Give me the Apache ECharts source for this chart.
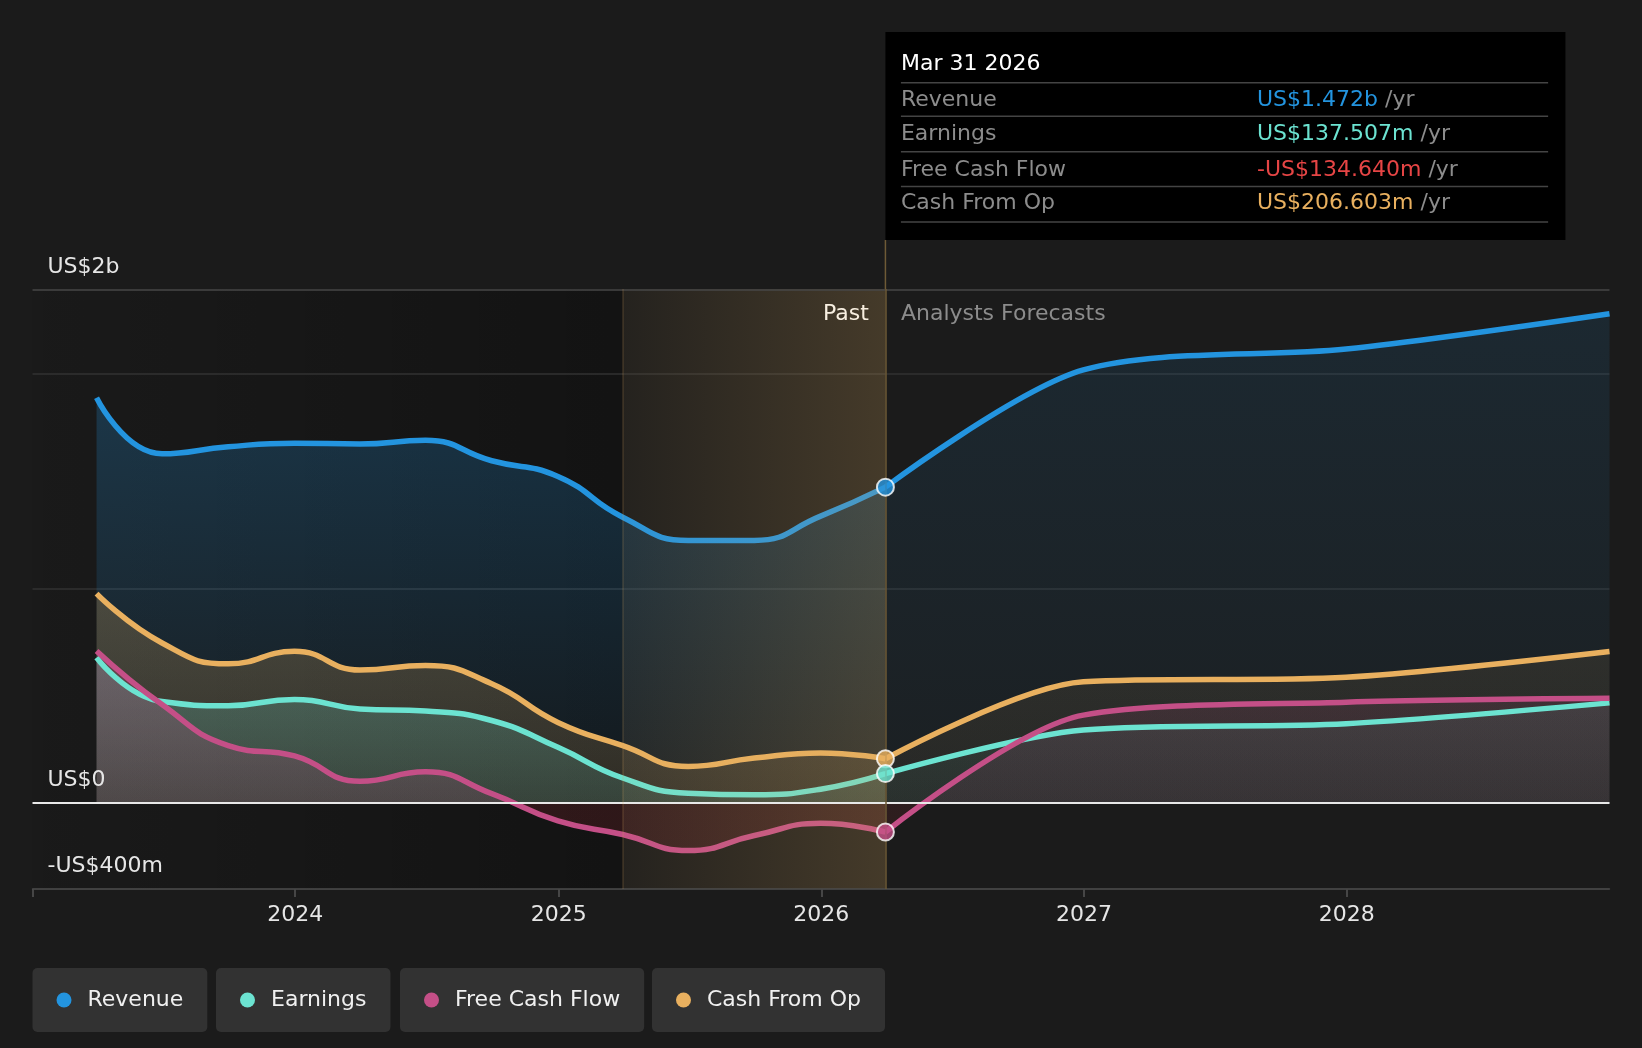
<!DOCTYPE html>
<html lang="en">
<head>
<meta charset="utf-8">
<title>Revenue, Earnings and Cash Flow</title>
<script src="https://cdn.jsdelivr.net/npm/echarts@6/dist/echarts.min.js"></script>
<style>
  html, body { margin: 0; padding: 0; background: #1b1b1b; }
  #chart { width: 1642px; height: 1048px; }
</style>
</head>
<body>
<div id="chart"></div>
<script>
// quarter ends (past) and analyst forecast dates
var pastDates = ['2023-03-31', '2023-06-30', '2023-09-30', '2023-12-31', '2024-03-31', '2024-06-30',
  '2024-09-30', '2024-12-31', '2025-03-31', '2025-06-30', '2025-09-30', '2025-12-31', '2026-03-31'];
var forecastDates = ['2026-03-31', '2026-12-31', '2027-12-31', '2028-12-31'];

// values in US$ billions
var revenuePast = [1.888, 1.627, 1.660, 1.677, 1.673, 1.690, 1.595, 1.522, 1.332, 1.224, 1.224, 1.337, 1.472];
var revenueForecast = [1.472, 2.018, 2.115, 2.280];
var earningsPast = [0.678, 0.473, 0.454, 0.483, 0.439, 0.429, 0.385, 0.260, 0.117, 0.046, 0.039, 0.065, 0.137507];
var earningsForecast = [0.137507, 0.341, 0.370, 0.467];
var fcfPast = [0.709, 0.459, 0.268, 0.220, 0.102, 0.146, 0.044, -0.083, -0.146, -0.221, -0.151, -0.094, -0.13464];
var fcfForecast = [-0.13464, 0.410, 0.470, 0.488];
var cfoPast = [0.976, 0.746, 0.649, 0.707, 0.620, 0.641, 0.556, 0.376, 0.268, 0.171, 0.210, 0.234, 0.206603];
var cfoForecast = [0.206603, 0.565, 0.586, 0.706];

var yLabelValues = [-0.4, 0];
var yLabelTexts = ['-US$400m', 'US$0'];
var topLabel = 'US$2b';
var gridValues = [1, 2];

var xMin = '2023-01-01', xMax = '2028-12-31';
var lastYearStart = '2025-03-31', nowDate = '2026-03-31';
var yMin = -0.4, yMax = 2.395;

var FONT = 'DejaVu Sans';
var C = { revenue: '#2394df', earnings: '#6ce3d1', fcf: '#c44f87', cfo: '#e9b05f' };

function ts(d) { return new Date(d + 'T00:00:00').getTime(); }
function pairs(dates, vals) { return dates.map(function (d, i) { return [ts(d), vals[i]]; }); }
function rgba(hex, a) {
  var n = parseInt(hex.slice(1), 16);
  return 'rgba(' + (n >> 16) + ',' + ((n >> 8) & 255) + ',' + (n & 255) + ',' + a + ')';
}
function grad(x2, y2, stops) { return { type: 'linear', x: 0, y: 0, x2: x2, y2: y2, colorStops: stops }; }

function metric(name, color, dates, vals, aTop, aBottom, smooth, negColor) {
  var stops = [{ offset: 0, color: rgba(color, aTop) }, { offset: 1, color: rgba(color, aBottom) }];
  if (negColor) {
    var max = Math.max.apply(null, vals.concat(0)), min = Math.min.apply(null, vals.concat(0));
    var zs = max / (max - min);
    stops = [{ offset: 0, color: rgba(color, aTop) }, { offset: zs, color: rgba(color, aBottom) },
      { offset: zs, color: negColor }, { offset: 1, color: negColor }];
  }
  return {
    name: name, type: 'line', data: pairs(dates, vals), smooth: smooth,
    symbol: 'none', silent: true, z: 2,
    lineStyle: { color: color, width: 5.5 }, itemStyle: { color: color },
    areaStyle: { color: grad(0, 1, stops) }
  };
}

function money(v) {
  var s = v < 0 ? '-US$' : 'US$', a = Math.abs(v);
  return a >= 1 ? s + a.toFixed(3) + 'b' : s + (a * 1000).toFixed(3) + 'm';
}

var labelStyle = { show: true, position: 'insideStartTop', color: '#e6e6e6', fontSize: 22, fontFamily: FONT, distance: [15, 12] };

var axisMarks = yLabelValues.map(function (v, i) {
  return {
    yAxis: v, label: Object.assign({ formatter: yLabelTexts[i] }, labelStyle),
    lineStyle: v === 0 ? { color: '#e8e8e8', width: 2, type: 'solid' } : { color: '#444', width: 1.5, type: 'solid' }
  };
});
axisMarks.push({ yAxis: yMax - 0.0005, label: Object.assign({ formatter: topLabel }, labelStyle), lineStyle: { color: '#474747', width: 1.5, type: 'solid' } });
axisMarks.push({ xAxis: ts(lastYearStart), label: { show: false }, lineStyle: { color: 'rgba(217,169,93,0.18)', width: 1.5, type: 'solid' } });
axisMarks.push({ xAxis: ts(nowDate), label: { show: false }, lineStyle: { color: '#6e5a36', width: 1.5, type: 'solid' } });

var series = [
  metric('Revenue', C.revenue, pastDates, revenuePast, 0.34, 0.06, 0.5),
  metric('Revenue', C.revenue, forecastDates, revenueForecast, 0.16, 0.05, 0.3),
  metric('Cash From Op', C.cfo, pastDates, cfoPast, 0.33, 0.18, 0.5),
  metric('Cash From Op', C.cfo, forecastDates, cfoForecast, 0.13, 0.08, 0.3),
  metric('Earnings', C.earnings, pastDates, earningsPast, 0.34, 0.18, 0.5),
  metric('Earnings', C.earnings, forecastDates, earningsForecast, 0.12, 0.07, 0.3),
  metric('Free Cash Flow', C.fcf, pastDates, fcfPast, 0.36, 0.2, 0.5, 'rgba(215,50,60,0.2)'),
  metric('Free Cash Flow', C.fcf, forecastDates, fcfForecast, 0.18, 0.12, 0.3, 'rgba(215,50,60,0.14)'),
  {
    name: 'frame', type: 'line', data: [], silent: true,
    markArea: {
      silent: true, z: 1,
      data: [[{ xAxis: ts(xMin), itemStyle: { color: grad(1, 0, [{ offset: 0, color: 'rgba(0,0,0,0.05)' }, { offset: 1, color: 'rgba(0,0,0,0.3)' }]) } },
        { xAxis: ts(lastYearStart) }]]
    },
    markLine: {
      silent: true, z: 1, symbol: 'none', animation: false,
      data: gridValues.map(function (v) { return { yAxis: v, label: { show: false }, lineStyle: { color: '#323232', width: 1.5, type: 'solid' } }; })
    }
  },
  {
    name: 'overlay', type: 'line', data: [], silent: true,
    markArea: {
      silent: true, z: 3,
      data: [[{ xAxis: ts(lastYearStart), itemStyle: { color: grad(1, 0, [{ offset: 0, color: 'rgba(217,169,93,0.05)' }, { offset: 1, color: 'rgba(217,169,93,0.22)' }]) } },
        { xAxis: ts(nowDate) }]]
    },
    markLine: { silent: true, z: 4, symbol: 'none', animation: false, data: axisMarks }
  },
  {
    name: 'current', type: 'scatter', z: 10, silent: true, symbolSize: 17,
    itemStyle: { borderColor: '#ffffff', borderWidth: 2 },
    data: [
      { value: [ts(nowDate), revenuePast[revenuePast.length - 1]], itemStyle: { color: C.revenue } },
      { value: [ts(nowDate), cfoPast[cfoPast.length - 1]], itemStyle: { color: C.cfo } },
      { value: [ts(nowDate), earningsPast[earningsPast.length - 1]], itemStyle: { color: C.earnings } },
      { value: [ts(nowDate), fcfPast[fcfPast.length - 1]], itemStyle: { color: C.fcf } }
    ]
  }
];

var legendNames = ['Revenue', 'Earnings', 'Free Cash Flow', 'Cash From Op'];
var legendLeft = [32.5, 216, 400, 652];
var legends = legendNames.map(function (n, i) {
  return {
    data: [n], left: legendLeft[i], top: 968, icon: 'circle', itemWidth: 15, itemHeight: 15,
    backgroundColor: '#323232', borderRadius: 5, padding: [20, 24, 20, 24],
    textStyle: { color: '#f0f0f0', fontSize: 22, fontFamily: FONT, lineHeight: 24, padding: [0, 0, 0, 11] }
  };
});

var chart = echarts.init(document.getElementById('chart'));
var option = {
  backgroundColor: '#1b1b1b',
  animation: false,
  textStyle: { fontFamily: FONT },
  grid: { left: 32.5, right: 32.5, top: 289, bottom: 159, containLabel: false },
  legend: legends,
  xAxis: {
    type: 'time', min: ts(xMin), max: ts(xMax),
    minInterval: 365 * 864e5, maxInterval: 366 * 864e5,
    splitLine: { show: false },
    axisLine: { onZero: false, lineStyle: { color: '#444', width: 1.5 } },
    axisTick: { show: true, length: 8, lineStyle: { color: '#555', width: 1.5 } },
    axisLabel: {
      formatter: function (v) { return v <= ts(xMin) ? '' : String(new Date(v).getFullYear()); },
      color: '#e6e6e6', fontSize: 22, fontFamily: FONT, margin: 15
    }
  },
  yAxis: { type: 'value', min: yMin, max: yMax, show: false, splitLine: { show: false } },
  series: series
};
chart.setOption(option);

// tooltip-style readout and the past / forecast captions
var cx = chart.convertToPixel({ xAxisIndex: 0 }, ts(nowDate));
var topY = chart.convertToPixel({ yAxisIndex: 0 }, yMax);
var rows = [
  ['Revenue', revenuePast, C.revenue],
  ['Earnings', earningsPast, C.earnings],
  ['Free Cash Flow', fcfPast, C.fcf],
  ['Cash From Op', cfoPast, C.cfo]
];
var rowY = [100, 134.5, 170, 203.5];
var sepY = [82.7, 116.2, 151.8, 186.4, 222];
var d = new Date(ts(nowDate));
var months = ['Jan', 'Feb', 'Mar', 'Apr', 'May', 'Jun', 'Jul', 'Aug', 'Sep', 'Oct', 'Nov', 'Dec'];
var header = months[d.getMonth()] + ' ' + d.getDate() + ' ' + d.getFullYear();

var g = [
  { type: 'rect', silent: true, shape: { x: cx, y: 32, width: 680, height: 208 }, style: { fill: '#000' } },
  { type: 'line', silent: true, shape: { x1: cx, y1: 240, x2: cx, y2: topY }, style: { stroke: '#6e5a36', lineWidth: 1.5 } },
  { type: 'text', silent: true, x: cx + 15.5, y: 64, style: { text: header, fill: '#ffffff', fontSize: 22, fontFamily: FONT, verticalAlign: 'middle' } },
  { type: 'text', silent: true, x: cx - 16.5, y: topY + 25, style: { text: 'Past', fill: '#ffffff', fontSize: 22, fontFamily: FONT, align: 'right', verticalAlign: 'middle' } },
  { type: 'text', silent: true, x: cx + 15.5, y: topY + 25, style: { text: 'Analysts Forecasts', fill: '#8c8c8c', fontSize: 22, fontFamily: FONT, verticalAlign: 'middle' } }
];
sepY.forEach(function (y) {
  g.push({ type: 'line', silent: true, shape: { x1: cx + 15.5, y1: y, x2: cx + 662.7, y2: y }, style: { stroke: '#444', lineWidth: 1.5 } });
});
rows.forEach(function (r, i) {
  var v = r[1][r[1].length - 1];
  var col = r[0] === 'Free Cash Flow' && v < 0 ? '#e64545' : r[2];
  g.push({ type: 'text', silent: true, x: cx + 15.5, y: rowY[i], style: { text: r[0], fill: '#8c8c8c', fontSize: 22, fontFamily: FONT, verticalAlign: 'middle' } });
  g.push({
    type: 'text', silent: true, x: cx + 371.6, y: rowY[i],
    style: {
      text: '{v|' + money(v) + '} {u|/yr}', verticalAlign: 'middle', fontSize: 22, fontFamily: FONT,
      rich: { v: { fill: col, fontSize: 22, fontFamily: FONT }, u: { fill: '#8c8c8c', fontSize: 22, fontFamily: FONT } }
    }
  });
});
chart.setOption({ graphic: g });
</script>
</body>
</html>
